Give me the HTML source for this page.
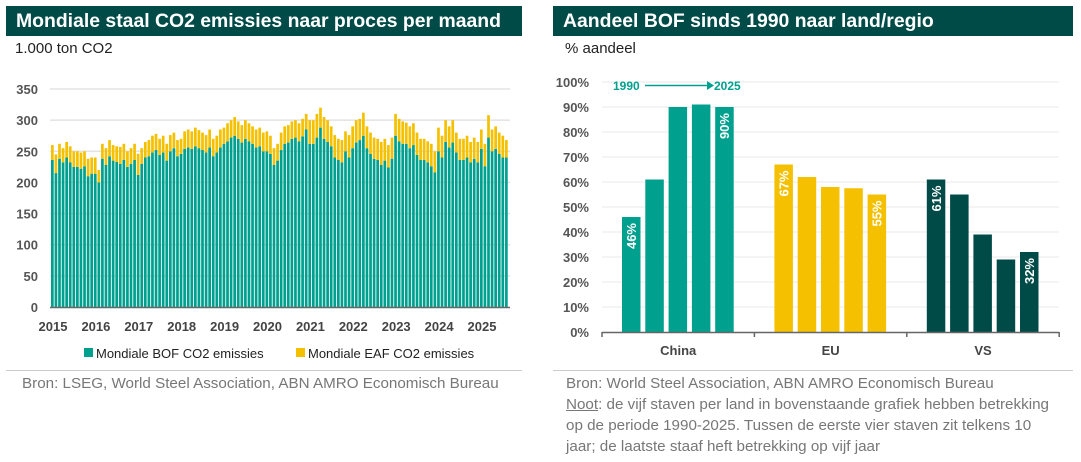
<!DOCTYPE html>
<html><head><meta charset="utf-8"><style>
body{margin:0;width:1081px;height:462px;background:#fff;font-family:"Liberation Sans",sans-serif;position:relative;overflow:hidden}
.hdr{position:absolute;top:6px;height:30px;background:#004b48;color:#fff;font-weight:bold;font-size:19.4px;line-height:30px;padding-left:10px;box-sizing:border-box;white-space:nowrap}
.sub{position:absolute;font-size:15px;color:#222}
.src{position:absolute;font-size:15.2px;color:#777;line-height:21px}
.rule{position:absolute;top:370px;height:1px;background:#ccc}
</style></head><body>
<div class="hdr" style="left:6px;width:516px">Mondiale staal CO2 emissies naar proces per maand</div>
<div class="sub" style="left:15px;top:40px">1.000 ton CO2</div>
<div class="hdr" style="left:553px;width:520px">Aandeel BOF sinds 1990 naar land/regio</div>
<div class="sub" style="left:565px;top:40px">% aandeel</div>
<div class="rule" style="left:6px;width:516px"></div>
<div class="rule" style="left:553px;width:520px"></div>
<div class="src" style="left:22px;top:373px">Bron: LSEG, World Steel Association, ABN AMRO Economisch Bureau</div>
<div class="src" style="left:566px;top:373px;width:495px">Bron: World Steel Association, ABN AMRO Economisch Bureau<br><u>Noot</u>: de vijf staven per land in bovenstaande grafiek hebben betrekking op de periode 1990-2025. Tussen de eerste vier staven zit telkens 10 jaar; de laatste staaf heft betrekking op vijf jaar</div>
<svg id="lc" width="540" height="370" style="position:absolute;left:0;top:0"></svg>
<svg id="rc" width="540" height="370" style="position:absolute;left:541px;top:0"></svg>
<script>
const years=["2015","2016","2017","2018","2019","2020","2021","2022","2023","2024","2025"];
const leftTicks=[0,50,100,150,200,250,300,350];
const totals=[260,245,262,255,265,258,250,250,248,250,238,240,
240,220,262,255,268,260,258,257,262,250,255,262,
246,255,265,268,275,278,270,275,262,276,280,268,
270,282,285,282,288,284,280,276,285,270,275,285,
288,295,300,305,298,292,300,295,290,285,288,280,
282,275,255,262,280,290,292,298,300,295,302,310,
300,300,310,320,305,300,290,276,270,268,282,276,
290,300,302,312,290,280,272,270,265,270,260,272,
310,302,298,296,290,295,280,270,270,266,262,250,
288,275,300,290,300,280,270,270,275,265,272,265,
285,262,308,285,290,280,275,268];
const bof=[236,215,238,232,240,232,225,225,222,226,210,214,
214,200,238,228,242,235,233,230,236,225,230,236,
212,230,240,242,248,252,244,248,235,250,255,242,
246,254,256,254,258,255,252,248,256,242,248,256,
262,266,272,275,270,264,270,266,262,256,258,250,
250,246,228,235,252,262,264,270,272,266,274,285,
262,262,272,288,270,265,258,240,236,232,250,240,
255,264,268,275,255,246,238,236,228,235,224,238,
275,266,262,262,255,260,244,236,236,232,226,216,
250,240,265,256,264,248,236,236,240,232,238,232,
254,226,272,250,254,246,240,240];
const NS='http://www.w3.org/2000/svg';
function mk(svg,tag,at,txt){const e=document.createElementNS(NS,tag);for(const k in at)e.setAttribute(k,at[k]);if(txt!==undefined)e.textContent=txt;svg.appendChild(e);return e;}
const L=document.getElementById('lc');
const ly=v=>307-v*218/350, x0=51, mw=3.575;
leftTicks.forEach(t=>{
 if(t>0){const g=mk(L,'line',{x1:50,x2:510,y1:ly(t),y2:ly(t),stroke:'#e3e3e3','stroke-width':1.5});
 
 }
 const lb=mk(L,'text',{x:38,y:ly(t)+5,'text-anchor':'end','font-size':13,'font-weight':'bold',fill:'#555'},t);
 
 
});
totals.forEach((t,i)=>{
 const x=x0+i*mw;
 const b=mk(L,'rect',{x:x,y:ly(bof[i]),width:2.7,height:ly(0)-ly(bof[i]),fill:'#00a08f'});
 
 
 const e=mk(L,'rect',{x:x,y:ly(t),width:2.7,height:ly(bof[i])-ly(t),fill:'#f5c000'});
 
 
});
const ax=mk(L,'line',{x1:50,x2:510,y1:307.5,y2:307.5,stroke:'#666','stroke-width':1.5});


years.forEach((y,i)=>{
 const lb=mk(L,'text',{x:x0+2+i*12*mw,y:331,'text-anchor':'middle','font-size':13,'font-weight':'bold',fill:'#444'},y);
 
 
});
[[84,'#00a08f','Mondiale BOF CO2 emissies'],[296,'#f5c000','Mondiale EAF CO2 emissies']].forEach(l=>{
 const s=mk(L,'rect',{x:l[0],y:348,width:9,height:9,fill:l[1]});
 
 
 const t=mk(L,'text',{x:l[0]+12,y:358,'font-size':13,fill:'#222'},l[2]);
 
 
});
const groups=["China","EU","VS"];
const china=[46,61,90,91,90];
const eu=[67,62,58,57.5,55];
const vs=[61,55,39,29,32];
const rightTicks=[0,10,20,30,40,50,60,70,80,90,100];
const R=document.getElementById('rc');
const ry=v=>332-v*2.5, gx0=61, gw=152.4;
rightTicks.forEach(t=>{
 if(t>0){const g=mk(R,'line',{x1:61,x2:518,y1:ry(t),y2:ry(t),stroke:'#eee','stroke-width':1.2});
 
 }
 const lb=mk(R,'text',{x:48,y:ry(t)+5,'text-anchor':'end','font-size':13,'font-weight':'bold',fill:'#555'},t+'%');
 
 
});
const cols=['#00a08f','#f5c000','#004b48'];
[china,eu,vs].forEach((arr,g)=>{
 arr.forEach((v,i)=>{
  const x=gx0+g*gw+20+i*23.3;
  const b=mk(R,'rect',{x:x,y:ry(v),width:18.5,height:ry(0)-ry(v),fill:cols[g]});
  
  
  if(i==0||i==4){
   const cx=x+9.5, cy=ry(v)+6;
   const t=mk(R,'text',{x:cx,y:cy,'font-size':13,'font-weight':'bold',fill:'#fff','text-anchor':'end',transform:`rotate(-90 ${cx} ${cy})`,dy:'4.5'},Math.round(v)+'%');
   
   
  }
 });
 const lb=mk(R,'text',{x:gx0+g*gw+gw/2,y:355,'text-anchor':'middle','font-size':13,'font-weight':'bold',fill:'#444'},groups[g]);
 
 
});
const rax=mk(R,'line',{x1:61,x2:518,y1:332.5,y2:332.5,stroke:'#666','stroke-width':1.5});


[0,1,2,3].forEach(i=>{const t=mk(R,'line',{x1:gx0+i*gw,x2:gx0+i*gw,y1:332,y2:337,stroke:'#666','stroke-width':1.5});
 
 });
const a1=mk(R,'text',{x:72,y:90,'font-size':12,'font-weight':'bold',fill:'#00a08f'},'1990');


const al=mk(R,'line',{x1:104,x2:168,y1:85.5,y2:85.5,stroke:'#00a08f','stroke-width':1.5});


const ah=mk(R,'path',{d:'M166 81 L173 85.5 L166 90 Z',fill:'#00a08f'});


const a2=mk(R,'text',{x:173,y:90,'font-size':12,'font-weight':'bold',fill:'#00a08f'},'2025');


</script>
</body></html>
